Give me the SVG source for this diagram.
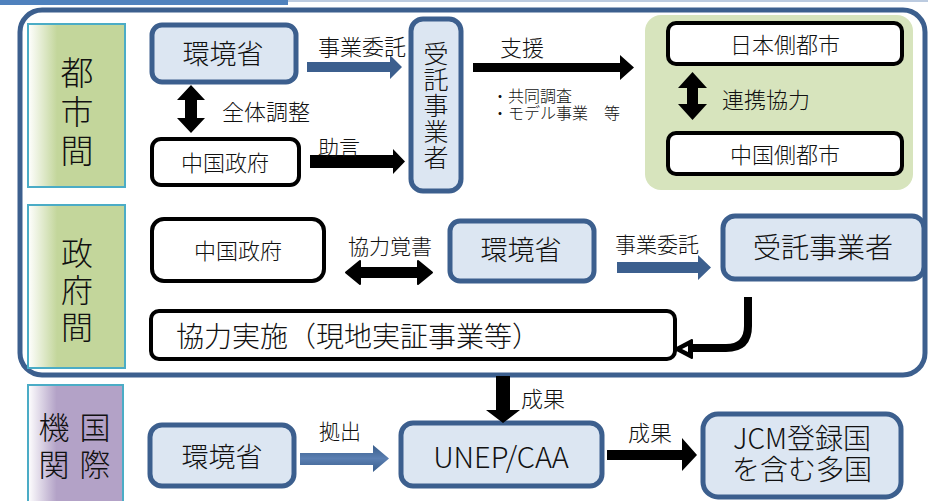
<svg xmlns="http://www.w3.org/2000/svg" width="928" height="501" viewBox="0 0 928 501">
<defs>
<linearGradient id="gGreen" x1="0" y1="0" x2="1" y2="0">
<stop offset="0" stop-color="#ffffff"/><stop offset="0.3" stop-color="#C3D69B"/><stop offset="1" stop-color="#C3D69B"/>
</linearGradient>
<linearGradient id="gPurple" x1="0" y1="0" x2="1" y2="0">
<stop offset="0" stop-color="#ffffff"/><stop offset="0.3" stop-color="#B3A2C7"/><stop offset="1" stop-color="#B3A2C7"/>
</linearGradient>
<linearGradient id="gBlueArrow" x1="0" y1="0" x2="0" y2="1">
<stop offset="0" stop-color="#385D8A"/><stop offset="0.5" stop-color="#5B7FB2"/><stop offset="1" stop-color="#385D8A"/>
</linearGradient>
<style>
text{font-family:"Noto Sans CJK JP","Noto Sans",sans-serif;font-weight:300;fill:#111;dominant-baseline:central;text-anchor:middle}
.vt{writing-mode:vertical-rl}
.blue{fill:#DCE6F2;stroke:#3C5F8E;stroke-width:5}
.white{fill:#fff;stroke:#000;stroke-width:4}
.lbl{stroke:#4BACC6;stroke-width:2}
.ab{fill:#000}
.abl{fill:#3C5F8E}
</style>
</defs>
<rect width="928" height="501" fill="#fff"/>
<!-- top banner -->
<rect x="0" y="0" width="288" height="5" fill="#4F81BD"/>
<rect x="288" y="0" width="640" height="2" fill="#BCCBE0"/>
<!-- outer frame -->
<rect x="20" y="10" width="905" height="365" rx="22" fill="none" stroke="#3C5F8E" stroke-width="5"/>
<!-- green background -->
<rect id="green-area" x="645" y="15" width="268" height="175" rx="16" fill="#D7E4BD"/>

<g id="label-toshikan">
<rect class="lbl" x="28" y="24" width="97" height="163" fill="url(#gGreen)"/>
<text class="vt" x="77" y="114" font-size="33" letter-spacing="6">都市間</text>
</g>
<g id="label-seifukan">
<rect class="lbl" x="28" y="205" width="97" height="163" fill="url(#gGreen)"/>
<text class="vt" x="77" y="292" font-size="32" letter-spacing="5">政府間</text>
</g>
<g id="label-kokusai">
<rect class="lbl" x="28" y="385" width="95" height="120" fill="url(#gPurple)"/>
<text class="vt" x="95" y="449" font-size="31" letter-spacing="6">国際</text>
<text class="vt" x="54" y="449" font-size="31" letter-spacing="6">機関</text>
</g>

<g id="moe-top">
<rect class="blue" x="152" y="25" width="144" height="57" rx="10"/>
<text x="223" y="52" font-size="27">環境省</text>
</g>
<g id="china-gov-top">
<rect class="white" x="152" y="139" width="147" height="46" rx="9"/>
<text x="225" y="161" font-size="22">中国政府</text>
</g>
<g id="contractor-top">
<rect class="blue" x="411" y="19" width="50" height="172" rx="12"/>
<text class="vt" x="436" y="106" font-size="25" letter-spacing="1">受託事業者</text>
</g>
<g id="japan-city">
<rect class="white" x="668" y="23" width="234" height="41" rx="8"/>
<text x="785" y="43" font-size="22">日本側都市</text>
</g>
<g id="china-city">
<rect class="white" x="668" y="133" width="234" height="41" rx="8"/>
<text x="785" y="153" font-size="22">中国側都市</text>
</g>

<g id="china-gov-mid">
<rect class="white" x="152" y="219" width="172" height="62" rx="12" stroke-width="3.5"/>
<text x="238" y="249" font-size="22">中国政府</text>
</g>
<g id="moe-mid">
<rect class="blue" x="450" y="221" width="144" height="60" rx="10"/>
<text x="521" y="248" font-size="27">環境省</text>
</g>
<g id="contractor-mid">
<rect class="blue" x="723" y="216" width="201" height="63" rx="12"/>
<text x="823" y="246" font-size="28">受託事業者</text>
</g>
<g id="cooperation">
<rect class="white" x="151" y="311" width="524" height="48" rx="8" stroke-width="2.5"/>
<text x="176" y="335" font-size="28" style="text-anchor:start">協力実施（現地実証事業等）</text>
</g>

<g id="moe-bottom">
<rect class="blue" x="150" y="425" width="144" height="61" rx="12"/>
<text x="222" y="455" font-size="27">環境省</text>
</g>
<g id="unep">
<rect class="blue" x="401" y="423" width="201" height="63" rx="12"/>
<text x="501" y="455" font-size="29">UNEP/CAA</text>
</g>
<g id="jcm">
<rect class="blue" x="703" y="414" width="198" height="83" rx="15" stroke-width="6"/>
<text font-size="28"><tspan x="802" y="437">JCM登録国</tspan><tspan x="802" y="468">を含む多国</tspan></text>
</g>

<g id="connectors">
<polygon class="abl" points="307,62 390,62 390,55 402,67 390,79 390,72 307,72"/>
<text x="362" y="45" font-size="22">事業委託</text>
<polygon class="ab" points="191,85 205,100 197,100 197,118 205,118 191,133 177,118 185,118 185,100 177,100"/>
<text x="266" y="110" font-size="22">全体調整</text>
<polygon class="ab" points="310,155 393,155 393,149 405,161.5 393,174 393,168 310,168"/>
<text x="339" y="146" font-size="21">助言</text>
<polygon class="ab" points="473,63 620,63 620,55 634,67.5 620,80 620,72 473,72"/>
<text x="522" y="46" font-size="22">支援</text>
<text font-size="16" style="text-anchor:start"><tspan x="492" y="95">・共同調査</tspan><tspan x="492" y="112">・モデル事業　等</tspan></text>
<polygon class="ab" points="692.5,72 707,88 698,88 698,104 707,104 692.5,120 678,104 687,104 687,88 678,88"/>
<text x="766" y="98" font-size="22">連携協力</text>
<polygon class="ab" stroke="#000" stroke-width="2" stroke-linejoin="round" points="346,272.5 360,261 360,268 418,268 418,261 432,272.5 418,284 418,277 360,277 360,284"/>
<text x="390" y="245" font-size="21">協力覚書</text>
<polygon class="abl" points="617,262 698,262 698,255 711,267.5 698,280 698,273 617,273"/>
<text x="657" y="243" font-size="21">事業委託</text>
<path d="M748,297 V326 Q748,348 726,348 H688" fill="none" stroke="#000" stroke-width="8"/>
<polygon class="ab" points="675,349 692,340 692,358" stroke="#000" stroke-width="2" stroke-linejoin="round"/>
<polygon points="682,349 688,346 688,352" fill="#fff"/>
<polygon class="ab" points="496,376 510,376 510,410 520,410 503,423 486,410 496,410"/>
<text x="543" y="397" font-size="22">成果</text>
<polygon points="300,453 373,453 373,445 389,458.5 373,472 373,465 300,465" fill="url(#gBlueArrow)"/>
<text x="340" y="430" font-size="21">拠出</text>
<polygon class="ab" points="607,450 682,450 682,438 697,455 682,471 682,460 607,460"/>
<text x="650" y="431" font-size="22">成果</text>
</g>
</svg>
